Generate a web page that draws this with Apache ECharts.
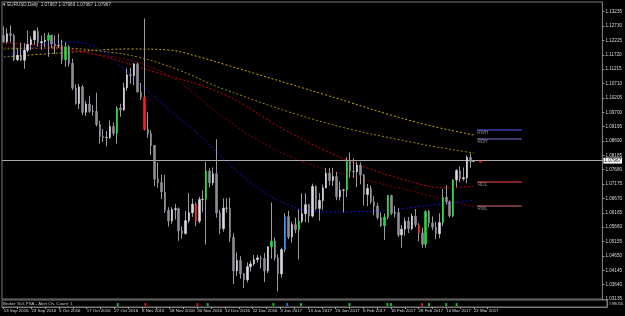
<!DOCTYPE html>
<html><head><meta charset="utf-8">
<script src="https://cdn.jsdelivr.net/npm/echarts@6/dist/echarts.min.js"></script>
<style>html,body{margin:0;padding:0;background:#000;}#c{width:625px;height:316px;}</style>
</head><body><div id="c"></div>
<script>
const dateLabels = ['13 Sep 2016','23 Sep 2016','5 Oct 2016','17 Oct 2016','27 Oct 2016','8 Nov 2016','18 Nov 2016','30 Nov 2016','12 Dec 2016','22 Dec 2016','3 Jan 2017','13 Jan 2017','25 Jan 2017','6 Feb 2017','16 Feb 2017','28 Feb 2017','10 Mar 2017','22 Mar 2017'];
const priceTicks = ['1.03135','1.03640','1.04145','1.04650','1.05155','1.05660','1.06165','1.06670','1.07175','1.07680','1.08185','1.08690','1.09195','1.09700','1.10205','1.10710','1.11215','1.11720','1.12225','1.12730','1.13235'];

const opens = [1.1240,1.1218,1.1246,1.1240,1.1155,1.1170,1.1153,1.1188,1.1208,1.1225,1.1255,1.1214,1.1218,1.1223,1.1241,1.1210,1.1204,1.1205,1.1155,1.1200,1.1142,1.1055,1.1001,1.1059,1.0970,1.0999,1.0973,1.0973,1.0927,1.0885,1.0881,1.0882,1.0920,1.0896,1.0985,1.0978,1.1056,1.1102,1.1099,1.1140,1.1041,1.1023,1.0910,1.0895,1.0853,1.0735,1.0723,1.0690,1.0625,1.0588,1.0628,1.0631,1.0553,1.0544,1.0589,1.0617,1.0647,1.0587,1.0663,1.0664,1.0763,1.0722,1.0754,1.0616,1.0561,1.0633,1.0633,1.0530,1.0412,1.0449,1.0402,1.0381,1.0427,1.0437,1.0452,1.0458,1.0456,1.0412,1.0497,1.0517,1.0458,1.0402,1.0487,1.0603,1.0532,1.0575,1.0558,1.0587,1.0613,1.0645,1.0605,1.0709,1.0632,1.0660,1.0704,1.0756,1.0730,1.0744,1.0673,1.0696,1.0697,1.0797,1.0763,1.0761,1.0784,1.0749,1.0681,1.0702,1.0655,1.0640,1.0600,1.0571,1.0601,1.0677,1.0615,1.0617,1.0539,1.0559,1.0587,1.0561,1.0605,1.0574,1.0546,1.0506,1.0621,1.0581,1.0566,1.0543,1.0582,1.0671,1.0655,1.0606,1.0732,1.0765,1.0736,1.0740,1.0811,1.07967];
const highs = [1.1272,1.1265,1.1276,1.1245,1.1195,1.1215,1.1213,1.1257,1.1236,1.1259,1.1268,1.1240,1.1248,1.1250,1.1242,1.1240,1.1246,1.1225,1.1215,1.1206,1.1158,1.1068,1.1069,1.1066,1.1010,1.1028,1.0995,1.1039,1.0940,1.0911,1.0904,1.0942,1.0934,1.0990,1.1000,1.1074,1.1124,1.1126,1.1143,1.1145,1.1073,1.1300,1.0970,1.0907,1.0855,1.0794,1.0750,1.0750,1.0636,1.0636,1.0647,1.0635,1.0569,1.0623,1.0686,1.0666,1.0653,1.0673,1.0695,1.0796,1.0773,1.0776,1.0875,1.0626,1.0667,1.0668,1.0670,1.0544,1.0477,1.0464,1.0405,1.0442,1.0448,1.0468,1.0468,1.0466,1.0475,1.0499,1.0653,1.0530,1.0470,1.0494,1.0615,1.0624,1.0585,1.0600,1.0629,1.0685,1.0685,1.0648,1.0719,1.0713,1.0686,1.0716,1.0774,1.0774,1.0775,1.0760,1.0727,1.0700,1.0812,1.0829,1.0808,1.0796,1.0794,1.0753,1.0718,1.0713,1.0675,1.0651,1.0618,1.0614,1.0679,1.0680,1.0641,1.0633,1.0574,1.0600,1.0602,1.0614,1.0630,1.0580,1.0564,1.0625,1.0627,1.0604,1.0585,1.0615,1.0700,1.0714,1.0660,1.0735,1.0770,1.0780,1.0776,1.0818,1.0825,1.07969];
const lows = [1.1215,1.1212,1.1215,1.1150,1.1150,1.1150,1.1123,1.1180,1.1188,1.1207,1.1201,1.1190,1.1199,1.1165,1.1195,1.1175,1.1195,1.1139,1.1130,1.1131,1.1048,1.0997,1.0981,1.0960,1.0957,1.0968,1.0958,1.0920,1.0860,1.0865,1.0850,1.0876,1.0887,1.0860,1.0954,1.0975,1.1045,1.1070,1.1065,1.1040,1.1013,1.0906,1.0880,1.0820,1.0710,1.0705,1.0665,1.0616,1.0568,1.0578,1.0593,1.0518,1.0525,1.0540,1.0580,1.0602,1.0570,1.0580,1.0618,1.0505,1.0706,1.0713,1.0600,1.0541,1.0550,1.0617,1.0514,1.0366,1.0395,1.0385,1.0352,1.0372,1.0410,1.0430,1.0442,1.0421,1.0373,1.0405,1.0455,1.0449,1.0340,1.0389,1.0478,1.0524,1.0512,1.0545,1.0453,1.0580,1.0584,1.0582,1.0600,1.0626,1.0589,1.0627,1.0703,1.0713,1.0711,1.0661,1.0660,1.0618,1.0672,1.0740,1.0740,1.0707,1.0717,1.0642,1.0640,1.0648,1.0608,1.0593,1.0567,1.0521,1.0593,1.0609,1.0601,1.0531,1.0494,1.0535,1.0545,1.0555,1.0566,1.0516,1.0494,1.0494,1.0565,1.0556,1.0524,1.0527,1.0570,1.0645,1.0600,1.0601,1.0706,1.0725,1.0729,1.0720,1.0775,1.07967];
const closes = [1.1218,1.1246,1.1240,1.1155,1.1170,1.1153,1.1188,1.1208,1.1225,1.1255,1.1214,1.1218,1.1223,1.1241,1.1210,1.1204,1.1205,1.1155,1.1200,1.1142,1.1055,1.1001,1.1059,1.0970,1.0999,1.0973,1.0973,1.0927,1.0885,1.0881,1.0882,1.0920,1.0896,1.0985,1.0978,1.1056,1.1102,1.1099,1.1140,1.1041,1.1023,1.0910,1.0895,1.0853,1.0735,1.0723,1.0690,1.0625,1.0588,1.0628,1.0631,1.0553,1.0544,1.0589,1.0617,1.0647,1.0587,1.0663,1.0664,1.0763,1.0722,1.0754,1.0616,1.0561,1.0633,1.0633,1.0530,1.0412,1.0449,1.0402,1.0381,1.0427,1.0437,1.0452,1.0458,1.0456,1.0412,1.0497,1.0517,1.0458,1.0402,1.0487,1.0603,1.0532,1.0575,1.0558,1.0587,1.0613,1.0645,1.0605,1.0709,1.0632,1.0660,1.0704,1.0756,1.0730,1.0744,1.0673,1.0696,1.0697,1.0797,1.0763,1.0761,1.0784,1.0749,1.0681,1.0702,1.0655,1.0640,1.0600,1.0571,1.0601,1.0677,1.0615,1.0617,1.0539,1.0559,1.0587,1.0561,1.0605,1.0574,1.0546,1.0506,1.0621,1.0581,1.0566,1.0543,1.0582,1.0671,1.0655,1.0606,1.0732,1.0765,1.0736,1.0740,1.0811,1.0797,1.07967];

const greenBars = [13, 18, 33, 59, 78, 86, 100, 111, 112, 123, 128, 131];
const redBars = [41, 56, 121];
const blueBars = [82];
const markerStart = 30; // indicator window marks only the later bars

// moving-average lines read at sample bars
const maSlowIdx = [0,16,37,48,57,64,93,120,137];
const maSlowVal = [1.11643,1.11783,1.11924,1.11889,1.11643,1.11396,1.10342,1.09357,1.08900];
const maMidIdx = [0,16,28,39,51,64,93,120,137];
const maMidVal = [1.11924,1.11959,1.11853,1.11643,1.11186,1.10518,1.09357,1.08619,1.08268];
const maRedIdx = [0,21,45,64,82,100,120,129,137];
const maRedVal = [1.12135,1.11889,1.11080,1.10342,1.09076,1.08022,1.07213,1.07037,1.07108];
const maDarkRedIdx = [0,22,45,64,74,86,100,120,137];
const maDarkRedVal = [1.11994,1.11818,1.11186,1.09533,1.08725,1.08022,1.07494,1.06897,1.06369];
const maBlueIdx = [0,8,18,26,37,45,57,71,83,94,109,120,137];
const maBlueVal = [1.11607,1.11959,1.12170,1.12029,1.11010,1.10131,1.08900,1.07318,1.06440,1.06194,1.06229,1.06369,1.06615];

const levelNames = ['RWH','RDH','RDL','RWL'];
const levelValues = [1.09076,1.08760,1.07248,1.06404];
const levelColors = ['#5a5aff','#7a7ad8','#ff4646','#e06a6a'];
const bidPrice = 1.07967;

const N = 175;
const cats = Array.from({length:N},(_,i)=>String(i));
const BULL='#dadae2', BEAR='#8e8e96', WICK='#9a9aa2';
const fontF = 'Liberation Sans';
function bodyColor(i){
  if (greenBars.includes(i)) return '#22e03c';
  if (redBars.includes(i)) return '#ff1e1e';
  if (blueBars.includes(i)) return '#2f8fff';
  return closes[i] >= opens[i] ? BULL : BEAR;
}
const wickData = opens.map((o,i)=>[o, closes[i], lows[i], highs[i]]);
const bodyData = opens.map((o,i)=>{
  const c = bodyColor(i);
  return {value:[o, closes[i], Math.min(o,closes[i]), Math.max(o,closes[i])],
    itemStyle:{color:c, color0:c, borderColor:c, borderColor0:c}};
});
const markerData = [];
[[greenBars,'#22e03c'],[redBars,'#ff1e1e'],[blueBars,'#2f8fff']].forEach(([arr,col])=>{
  arr.filter(i=>i>=markerStart).forEach(i=>markerData.push({value:[String(i),0.35], itemStyle:{color:col}}));
});
function maSeries(idx, val, color){
  return {type:'line', xAxisIndex:0, yAxisIndex:0, symbol:'none', smooth:0.4, silent:true,
    data: idx.map((k,j)=>[String(k), val[j]]),
    lineStyle:{color:color, width:1, type:[2,2]}, z:1};
}
const levelSeries = levelValues.map((v,j)=>({
  type:'line', xAxisIndex:0, yAxisIndex:0, symbol:'none', silent:true,
  data:[['138',v], ['151',v]],
  lineStyle:{color:levelColors[j], width:1}, z:3
}));
const levelLabelSeries = {
  type:'scatter', xAxisIndex:0, yAxisIndex:0, symbolSize:0, silent:true, z:4,
  data: levelValues.map((v,j)=>({value:['139',v], label:{formatter:levelNames[j]}})),
  label:{show:true, position:'bottom', distance:0.5, color:'#a8a8a8', fontSize:4.6, fontFamily:fontF, offset:[2,0]}
};

const chart = echarts.init(document.getElementById('c'), null, {renderer:'canvas'});
chart.setOption({
  animation:false,
  backgroundColor:'#000000',
  grid:[
    {left:2, right:18, top:2, height:297, show:true, borderColor:'#7a7a7a', borderWidth:1},
    {left:2, right:18, top:300, height:7, show:true, borderColor:'#7a7a7a', borderWidth:1}
  ],
  xAxis:[
    {type:'category', gridIndex:0, data:cats, boundaryGap:true, axisLine:{show:false}, axisTick:{show:false}, axisLabel:{show:false}, splitLine:{show:false}},
    {type:'category', gridIndex:1, data:cats, boundaryGap:true,
      axisLine:{show:true, lineStyle:{color:'#7a7a7a'}},
      axisTick:{show:true, alignWithLabel:true, interval:(i)=> i%4===0 && i<=140, length:2, lineStyle:{color:'#9a9a9a'}},
      axisLabel:{show:true, interval:(i)=> i%8===0 && i/8 < dateLabels.length, formatter:(v,i)=> dateLabels[i/8] || '',
        align:'left', color:'#d8d8d8', fontSize:4.4, fontFamily:fontF, margin:2},
      splitLine:{show:false}}
  ],
  yAxis:[
    {type:'value', gridIndex:0, position:'right', min:1.03135, max:1.13576, scale:true,
      axisLine:{show:true, lineStyle:{color:'#7a7a7a'}},
      axisTick:{show:true, customValues:priceTicks.map(Number), length:2, lineStyle:{color:'#9a9a9a'}},
      axisLabel:{show:true, customValues:priceTicks.map(Number), formatter:(v)=> v.toFixed(5), color:'#d8d8d8', fontSize:4.6, fontFamily:fontF, margin:3},
      splitLine:{show:false}},
    {type:'value', gridIndex:1, position:'right', min:0, max:1, axisLine:{show:true, lineStyle:{color:'#7a7a7a'}}, axisTick:{show:false}, axisLabel:{show:false}, splitLine:{show:false}}
  ],
  graphic:[
    {type:'text', left:3, top:2.5, style:{text:'\u25BE EURUSD,Daily  1.07967 1.07969 1.07967 1.07967', fill:'#d0d0d0', font:'4.6px Liberation Sans'}},
    {type:'text', left:3, top:301.5, style:{text:'Broker Tick PSA - Alert On, Count: 1', fill:'#c8c8c8', font:'4.3px Liberation Sans'}},
    {type:'text', left:609, top:302, style:{text:'#99056', fill:'#c8c8c8', font:'4.3px Liberation Sans'}}
  ],
  series:[
    maSeries(maSlowIdx, maSlowVal, '#c8a800'),
    maSeries(maMidIdx, maMidVal, '#9c8a00'),
    maSeries(maRedIdx, maRedVal, '#d00000'),
    maSeries(maDarkRedIdx, maDarkRedVal, '#8a0000'),
    maSeries(maBlueIdx, maBlueVal, '#1010d0'),
    {type:'candlestick', xAxisIndex:0, yAxisIndex:0, data:wickData, barWidth:1, z:5,
      itemStyle:{color:WICK, color0:WICK, borderColor:WICK, borderColor0:WICK, borderWidth:1},
      markLine:{silent:true, symbol:'none', data:[{yAxis:bidPrice}],
        lineStyle:{color:'#a8a8a8', width:1, type:'solid'},
        label:{show:true, position:'end', formatter:bidPrice.toFixed(5), backgroundColor:'#ffffff', color:'#000000', fontSize:4.6, fontFamily:fontF, padding:[1,1,0,1], distance:1}}
    },
    {type:'candlestick', xAxisIndex:0, yAxisIndex:0, data:bodyData, barWidth:2, z:6,
      itemStyle:{borderWidth:0.6}},
    ...levelSeries,
    levelLabelSeries,
    {type:'scatter', xAxisIndex:0, yAxisIndex:0, symbol:'rect', symbolSize:[3,2], data:[['139', bidPrice]], itemStyle:{color:'#ff2020'}, z:6, silent:true},
    {type:'scatter', xAxisIndex:1, yAxisIndex:1, symbol:'rect', symbolSize:[2,3], data:markerData, z:6, silent:true}
  ]
});
</script></body></html>
